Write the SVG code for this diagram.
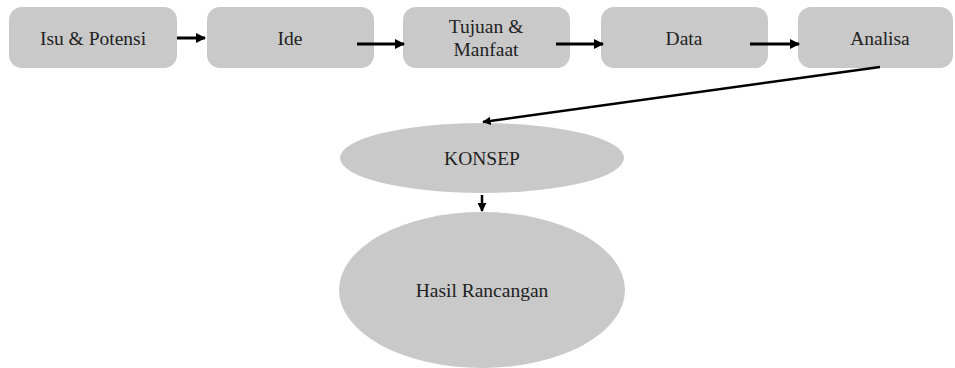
<svg xmlns="http://www.w3.org/2000/svg" width="955" height="368" viewBox="0 0 955 368">
<defs>
<style>
.box{fill:#c9c9c9;}
.t{font-family:"Liberation Serif","Times New Roman",serif;font-size:19.5px;fill:#222;text-anchor:middle;}
.c{stroke:#000;fill:none;}
</style>
<marker id="ah" viewBox="0 0 10 10" refX="9" refY="5" markerWidth="3.4" markerHeight="3.4" orient="auto" markerUnits="strokeWidth">
<path d="M0,0 L10,5 L0,10 z" fill="#000"/>
</marker>
<marker id="ah2" viewBox="0 0 10 10" refX="9" refY="5" markerWidth="3.6" markerHeight="3.6" orient="auto" markerUnits="strokeWidth">
<path d="M0,0 L10,5 L0,10 z" fill="#000"/>
</marker>
</defs>
<rect width="955" height="368" fill="#fff"/>
<g id="n1"><rect class="box" x="9" y="7" width="168" height="61" rx="13"/><text class="t" x="93" y="45">Isu &amp; Potensi</text></g>
<g id="n2"><rect class="box" x="207" y="7" width="167" height="61" rx="13"/><text class="t" x="290" y="45">Ide</text></g>
<g id="n3"><rect class="box" x="403" y="7" width="167" height="61" rx="13"/><text class="t" x="486" y="33">Tujuan &amp;</text><text class="t" x="486" y="56">Manfaat</text></g>
<g id="n4"><rect class="box" x="601" y="7" width="167" height="61" rx="13"/><text class="t" x="684" y="45">Data</text></g>
<g id="n5"><rect class="box" x="798" y="7" width="155" height="61" rx="13"/><text class="t" x="880" y="45">Analisa</text></g>
<g id="n6"><ellipse class="box" cx="482" cy="158" rx="142" ry="35"/><text class="t" x="482" y="165">KONSEP</text></g>
<g id="n7"><ellipse class="box" cx="482" cy="290" rx="143" ry="78"/><text class="t" x="482" y="297">Hasil Rancangan</text></g>
<g id="connectors">
<line class="c" x1="177" y1="38" x2="205" y2="38" stroke-width="3" marker-end="url(#ah)"/>
<line class="c" x1="357" y1="44" x2="404" y2="44" stroke-width="3" marker-end="url(#ah)"/>
<line class="c" x1="556" y1="44" x2="603" y2="44" stroke-width="3" marker-end="url(#ah)"/>
<line class="c" x1="750" y1="44" x2="799" y2="44" stroke-width="3" marker-end="url(#ah)"/>
<line class="c" x1="880" y1="67" x2="483" y2="122" stroke-width="2.5" marker-end="url(#ah)"/>
<line class="c" x1="482" y1="195" x2="482" y2="211" stroke-width="2.5" marker-end="url(#ah2)"/>
</g>
</svg>
